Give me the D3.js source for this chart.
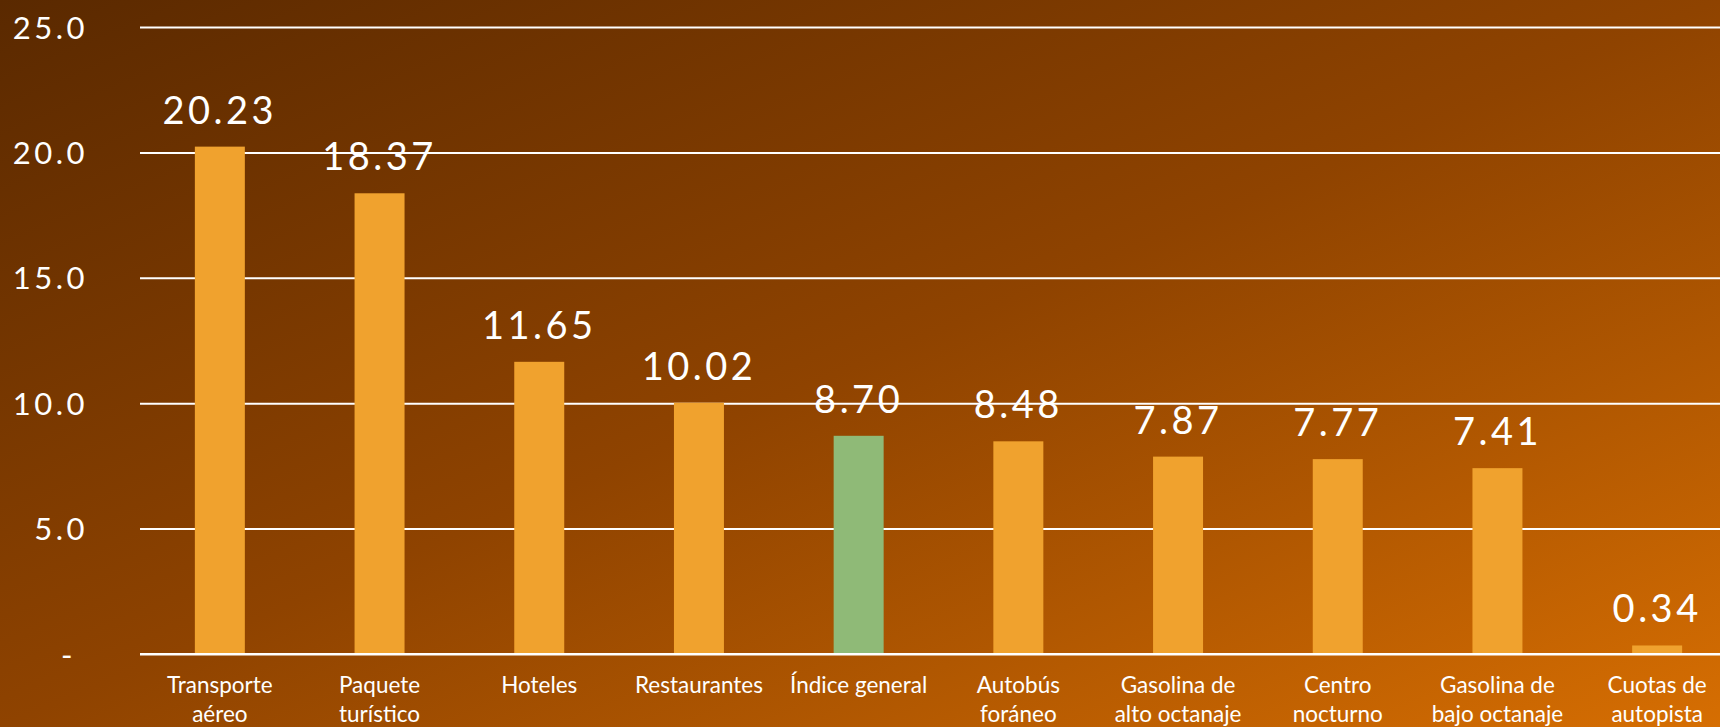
<!DOCTYPE html>
<html>
<head>
<meta charset="utf-8">
<script src="https://cdn.jsdelivr.net/npm/d3@7"></script>
<style>
  html, body { margin: 0; padding: 0; overflow: hidden; background: #7a3a00; }
  svg { display: block; }
</style>
</head>
<body>
<svg id="chart" width="1720" height="727"></svg>
<script>
// ---- data ----
const categories = [
  "Transporte\naéreo",
  "Paquete\nturístico",
  "Hoteles",
  "Restaurantes",
  "Índice general",
  "Autobús\nforáneo",
  "Gasolina de\nalto octanaje",
  "Centro\nnocturno",
  "Gasolina de\nbajo octanaje",
  "Cuotas de\nautopista"
];
const values = [20.23, 18.37, 11.65, 10.02, 8.70, 8.48, 7.87, 7.77, 7.41, 0.34];
const highlight = ["Índice general"];
const yTicks = [0, 5, 10, 15, 20, 25];

(function () {
// ---- layout ----
const W = 1720, H = 727;
const mLeft = 140, mRight = 1737, mTop = 27, mBottom = 654;
const svg = d3.select("#chart");

const defs = svg.append("defs");
const grad = defs.append("linearGradient").attr("id", "bg")
  .attr("x1", "0").attr("y1", "0").attr("x2", "1").attr("y2", "1");
grad.append("stop").attr("offset", "0%").attr("stop-color", "#5a2900");
grad.append("stop").attr("offset", "50%").attr("stop-color", "#8f4300");
grad.append("stop").attr("offset", "100%").attr("stop-color", "#d66e02");
svg.append("rect").attr("width", W).attr("height", H).attr("fill", "url(#bg)");

const x = d3.scaleBand().domain(categories).range([mLeft, mRight])
  .paddingInner(0.687).paddingOuter(0.3435);
const y = d3.scaleLinear().domain([0, 25]).range([mBottom, mTop]);

// y axis + gridlines
const yAxis = d3.axisLeft(y).tickValues(yTicks)
  .tickSize(-(mRight - mLeft)).tickPadding(52)
  .tickFormat(d => d === 0 ? "-" : d3.format(".1f")(d));
const gy = svg.append("g").attr("transform", `translate(${mLeft},0)`).call(yAxis);
gy.select(".domain").remove();
gy.selectAll(".tick line").attr("stroke", "#ffffff").attr("stroke-width", 2);
gy.selectAll(".tick text")
  .attr("fill", "#ffffff")
  .style("font-family", "Lato, 'Open Sans', sans-serif")
  .style("font-size", "31px")
  .style("letter-spacing", "3.5px")
  .attr("dy", "0.36em")
  .attr("dx", d => d === 0 ? -12 : 0);

// bars
svg.append("g").selectAll("rect").data(categories).join("rect")
  .attr("x", d => x(d))
  .attr("y", (d, i) => y(values[i]))
  .attr("width", x.bandwidth())
  .attr("height", (d, i) => y(0) - y(values[i]))
  .attr("fill", d => highlight.includes(d) ? "#8fba77" : "#f0a22e");

// redraw baseline on top
svg.append("line").attr("x1", mLeft).attr("x2", mRight)
  .attr("y1", y(0)).attr("y2", y(0))
  .attr("stroke", "#ffffff").attr("stroke-width", 2);

// value labels
svg.append("g").selectAll("text").data(categories).join("text")
  .attr("x", d => x(d) + x.bandwidth() / 2)
  .attr("y", (d, i) => y(values[i]) - 23)
  .attr("text-anchor", "middle")
  .attr("fill", "#ffffff")
  .style("font-family", "Lato, 'Open Sans', sans-serif")
  .style("font-size", "38px")
  .style("letter-spacing", "3.5px")
  .text((d, i) => d3.format(".2f")(values[i]));

// x axis labels
const xl = svg.append("g").selectAll("text").data(categories).join("text")
  .attr("text-anchor", "middle")
  .attr("fill", "#ffffff")
  .style("font-family", "Lato, 'Open Sans', sans-serif")
  .style("font-size", "22.5px");
xl.each(function(d) {
  const t = d3.select(this);
  const cx = x(d) + x.bandwidth() / 2;
  d.split("\n").forEach((line, j) => {
    t.append("tspan").attr("x", cx).attr("y", 693 + j * 29).text(line);
  });
});
})();
</script>
</body>
</html>
